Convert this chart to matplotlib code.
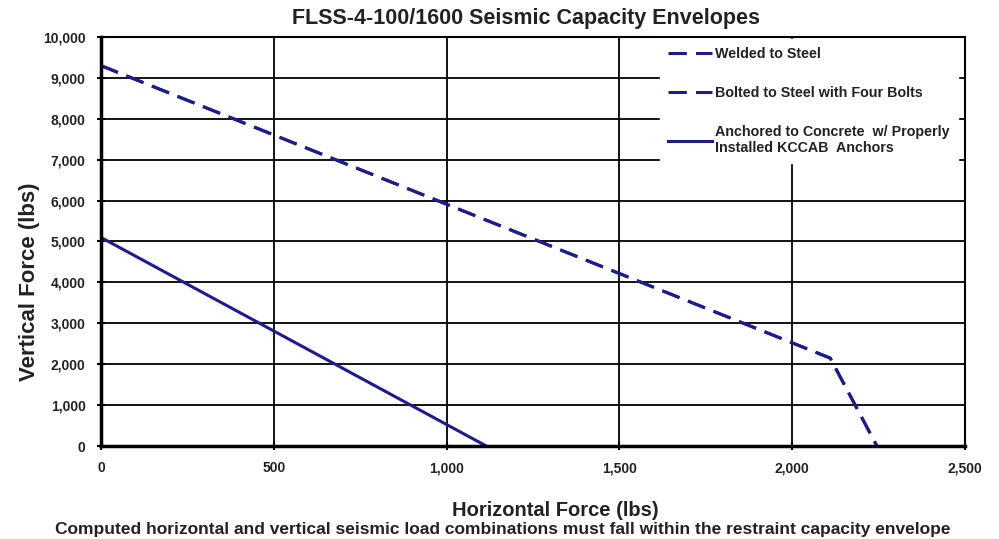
import matplotlib.pyplot as plt
from matplotlib.ticker import FuncFormatter

plt.rcParams['font.family'] = ['Liberation Sans', 'DejaVu Sans']

# Envelope points (horizontal lbs, vertical lbs)
welded_x = [0, 2110, 2245]
welded_y = [9300, 2150, 0]
bolted_x = [0, 2110, 2245]
bolted_y = [9300, 2150, 0]
anchored_x = [0, 1115]
anchored_y = [5100, 0]

line_color = '#1c1c8e'
text_color = '#222222'

fig = plt.figure(figsize=(9.99, 5.39), dpi=100)
ax = fig.add_axes([0.101, 0.1725, 0.865, 0.7589])

ax.plot(welded_x, welded_y, color=line_color, lw=2.2, dashes=(6, 3), label='Welded to Steel')
ax.plot(bolted_x, bolted_y, color=line_color, lw=2.2, dashes=(6, 3), label='Bolted to Steel with Four Bolts')
ax.plot(anchored_x, anchored_y, color=line_color, lw=2.2,
        label='Anchored to Concrete  w/ Properly\nInstalled KCCAB  Anchors')

ax.set_xlim(0, 2500)
ax.set_ylim(0, 10000)
ax.set_xticks(range(0, 2501, 500))
ax.set_yticks(range(0, 10001, 1000))
ax.xaxis.set_major_formatter(FuncFormatter(lambda v, p: f'{int(v):,}'))
ax.yaxis.set_major_formatter(FuncFormatter(lambda v, p: f'{int(v):,}'))
ax.grid(True, color='black', lw=1.3)
ax.set_axisbelow(True)

for side in ['top', 'right']:
    ax.spines[side].set_linewidth(1.5)
for side in ['left', 'bottom']:
    ax.spines[side].set_linewidth(2.5)

ax.tick_params(direction='inout', length=6, width=1.5, labelsize=10, pad=8)
for lbl in ax.get_xticklabels() + ax.get_yticklabels():
    lbl.set_fontweight('bold')
    lbl.set_color(text_color)

leg = ax.legend(loc='upper right', bbox_to_anchor=(0.994, 1.0), fontsize=10.3,
                frameon=True, fancybox=False,
                handlelength=3.1, labelspacing=1.75, borderpad=0.55,
                borderaxespad=0.15, handletextpad=0.2)
leg.get_frame().set_edgecolor('white')
leg.get_frame().set_facecolor('white')
leg.get_frame().set_alpha(1)
for t in leg.get_texts():
    t.set_fontweight('bold')
    t.set_color(text_color)

fig.text(0.527, 0.966, 'FLSS-4-100/1600 Seismic Capacity Envelopes',
         ha='center', va='center', fontsize=15.5, fontweight='bold', color=text_color)
fig.text(0.03, 0.478, 'Vertical Force (lbs)', rotation=90, ha='center', va='center',
         fontsize=16, fontweight='bold', color=text_color)
fig.text(0.556, 0.053, 'Horizontal Force (lbs)', ha='center', va='center',
         fontsize=14.5, fontweight='bold', color=text_color)
fig.text(0.503, 0.017, 'Computed horizontal and vertical seismic load combinations must fall within the restraint capacity envelope',
         ha='center', va='center', fontsize=12.5, fontweight='bold', color=text_color)

fig.savefig('out.png', dpi=100)
